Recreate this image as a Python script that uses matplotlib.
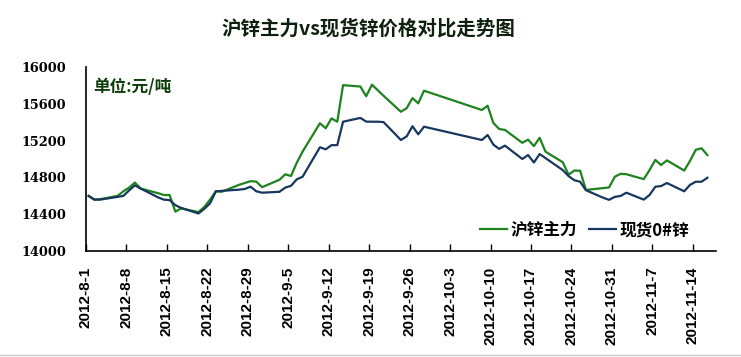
import matplotlib
matplotlib.use("Agg")
import matplotlib.pyplot as plt
from matplotlib.lines import Line2D
import pandas as pd

# trading days (Aug 1 - Nov 16, 2012; National Day holiday gap)
aug = [1, 2, 3, 6, 7, 8, 9, 10, 13, 14, 15, 16, 17, 20, 21, 22, 23, 24, 27, 28, 29, 30, 31]
sep = [3, 4, 5, 6, 7, 10, 11, 12, 13, 14, 17, 18, 19, 20, 21, 24, 25, 26, 27, 28]
oct_ = [8, 9, 10, 11, 12, 15, 16, 17, 18, 19, 22, 23, 24, 25, 26, 29, 30, 31]
nov = [1, 2, 5, 6, 7, 8, 9, 12, 13, 14, 15, 16]

shfe_zinc = [14600, 14560, 14565, 14600, 14650, 14690, 14745, 14680, 14630, 14610, 14610, 14430,
             14465, 14425, 14480, 14560, 14650, 14645, 14720, 14740, 14760, 14755, 14695,
             14775, 14834, 14816, 14960, 15080, 15387, 15333, 15440, 15404, 15800, 15785, 15680,
             15805, 15745, 15685, 15512, 15550, 15660, 15603, 15740,
             15531, 15577, 15390, 15325, 15315, 15175, 15210, 15140, 15230, 15080, 14965, 14830,
             14875, 14873, 14665, 14685, 14692, 14808,
             14840, 14835, 14782, 14880, 14990, 14935, 14985, 14875, 14980, 15100, 15116, 15043]

spot_zinc = [14600, 14560, 14560, 14590, 14600, 14660, 14715, 14680, 14585, 14560, 14555, 14500,
             14470, 14410, 14460, 14520, 14650, 14655, 14668, 14675, 14700, 14650, 14635,
             14645, 14690, 14710, 14780, 14808, 15127, 15105, 15150, 15150, 15404, 15445, 15405,
             15404, 15404, 15400, 15206, 15245, 15355, 15268, 15350,
             15206, 15260, 15155, 15110, 15145, 15000, 15043, 14962, 15054, 15010, 14880, 14815,
             14770, 14754, 14662, 14580, 14558, 14590,
             14600, 14635, 14560, 14610, 14700, 14707, 14740, 14650, 14720, 14754, 14754, 14797]

series_labels = ["沪锌主力", "现货0#锌"]
y_ticks = [14000, 14400, 14800, 15200, 15600, 16000]

dates = ([pd.Timestamp(2012, 8, d) for d in aug] + [pd.Timestamp(2012, 9, d) for d in sep]
         + [pd.Timestamp(2012, 10, d) for d in oct_] + [pd.Timestamp(2012, 11, d) for d in nov])
# Excel date axis puts each point in the middle of its day
x = [d + pd.Timedelta(hours=12) for d in dates]

cjk = ['Noto Sans CJK SC', 'DejaVu Sans']

fig = plt.figure(figsize=(7.41, 3.57), dpi=100)
ax = fig.add_axes([0.1157, 0.296, 0.8506, 0.5172])

ax.plot(x, shfe_zinc, color='#1e821e', lw=1.6, label=series_labels[0])
ax.plot(x, spot_zinc, color='#17375e', lw=1.6, label=series_labels[1])

start = pd.Timestamp(2012, 8, 1)
ax.set_xlim(start, pd.Timestamp(2012, 11, 18))
ax.set_ylim(14000, 16000)

ticks = pd.date_range(start, periods=16, freq='7D')
ax.set_xticks(ticks)
ax.set_xticklabels([f"{t.year}-{t.month}-{t.day}" for t in ticks], rotation=90,
                   fontfamily='Liberation Sans', fontweight='bold', fontsize=11)
ax.tick_params(axis='x', direction='in', length=5, width=1, pad=11)

ax.set_yticks(y_ticks)
ax.set_yticklabels([str(v) for v in y_ticks], fontfamily='DejaVu Serif',
                   fontweight='bold', fontsize=9.3)
ax.tick_params(axis='y', length=0, pad=14)

for s in ['top', 'right']:
    ax.spines[s].set_visible(False)
for s in ['left', 'bottom']:
    ax.spines[s].set_linewidth(1.2)

ax.text(0.012, 0.89, "单位:元/吨", transform=ax.transAxes, fontfamily=cjk,
        fontweight='bold', fontsize=12, color='#0b3d0b', va='center')

leg = ax.legend(loc='center right', bbox_to_anchor=(0.958, 0.115), ncol=2, frameon=False,
                prop={'family': cjk, 'weight': 'bold', 'size': 12},
                handlelength=1.6, columnspacing=0.7, handletextpad=0.25,
                borderpad=0, borderaxespad=0)

fig.text(0.497, 0.92, "沪锌主力vs现货锌价格对比走势图", ha='center', va='center',
         fontfamily=cjk, fontweight='bold', fontsize=14, color='#0d1f0d')

# faint frame line at the bottom of the original image
fig.add_artist(Line2D([0.0, 1.0], [0.006, 0.006], color='#c8c8c8', lw=1))

fig.savefig("out.png", dpi=100, facecolor='white')
